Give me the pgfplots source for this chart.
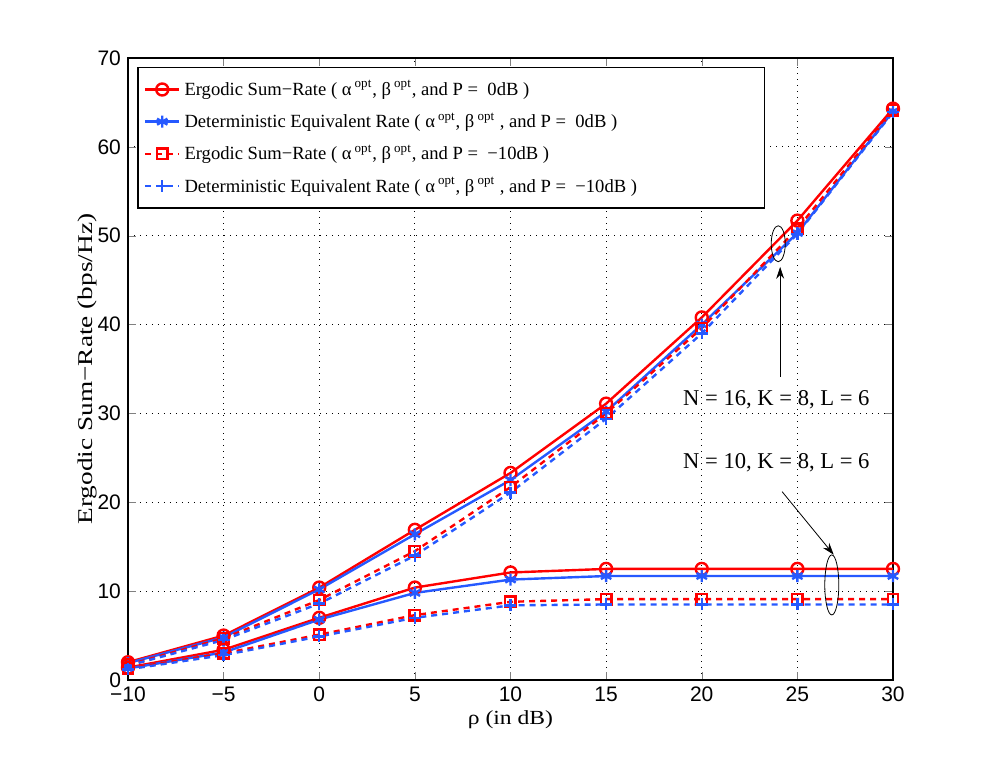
\documentclass[border=0pt]{standalone}
\usepackage{fontspec}
\setmainfont{Liberation Serif}
\newfontfamily\tickfont{Liberation Sans}
\usepackage{pgfplots}
\pgfplotsset{compat=1.18}
\usetikzlibrary{arrows.meta}
\definecolor{myred}{rgb}{1,0,0}
\definecolor{myblue}{rgb}{0.15,0.35,1}
\newcommand{\leg}[3]{\makebox[285pt][l]{#1 ( α\,\textsuperscript{opt}, β\,\textsuperscript{opt}#3, and P = \ #2 )}}
\begin{document}
\begin{tikzpicture}
\path[use as bounding box] (-64pt,-42pt) rectangle (428.5pt,340pt);
\begin{axis}[at={(0,0)}, anchor=south west, scale only axis,
  width=382.5pt, height=311pt,
  xmin=-10, xmax=30, ymin=0, ymax=70,
  xtick={-10,-5,...,30}, xticklabels={−10,−5,0,5,10,15,20,25,30},
  ytick={0,10,...,70},
  tick label style={font=\tickfont\fontsize{10.5}{12}\selectfont},
  /pgf/number format/assume math mode=true,
  grid=major,
  major grid style={black, line width=0.4pt, dash pattern=on 0.4pt off 2.6pt},
  tick align=inside, major tick length=4pt,
  axis line style={line width=0.9pt},
  xlabel={\scalebox{1.18}[1]{ρ (in dB)}},
  ylabel={\scalebox{1.3}[1]{Ergodic Sum−Rate (bps/Hz)}},
  xlabel style={font=\fontsize{10}{12}\selectfont, at={(axis description cs:0.5,-0.064)}, anchor=center},
  ylabel style={font=\fontsize{10.5}{12}\selectfont, at={(axis description cs:-0.053,0.5)}, anchor=center},
  legend style={at={(0.012,0.986)}, anchor=north west,
    font=\fontsize{9.3}{11}\selectfont, draw=black, line width=0.8pt,
    cells={anchor=west}, row sep=3.1pt, inner xsep=3pt, inner ysep=4.5pt},
  legend cell align=left,
]
% N = 16
\addplot[myred, line width=1.2pt, mark=o, mark size=3pt, mark options={solid}]
 coordinates {(-10,2.0) (-5,5.0) (0,10.4) (5,16.9) (10,23.3) (15,31.1) (20,40.8) (25,51.7) (30,64.3)};
\addlegendentry{\leg{Ergodic Sum−Rate}{0dB}{}}
\addplot[myblue, line width=1.2pt, mark=asterisk, mark size=3pt, mark options={solid}]
 coordinates {(-10,1.9) (-5,4.8) (0,10.2) (5,16.4) (10,22.5) (15,30.2) (20,40.0) (25,50.3) (30,64.0)};
\addlegendentry{\leg{Deterministic Equivalent Rate}{0dB}{\ }}
\addplot[myred, line width=1.2pt, dash pattern=on 3pt off 2.5pt, mark=square, mark size=2.6pt, mark options={solid}]
 coordinates {(-10,1.7) (-5,4.7) (0,9.0) (5,14.5) (10,21.7) (15,30.0) (20,39.6) (25,50.8) (30,64.1)};
\addlegendentry{\leg{Ergodic Sum−Rate}{−10dB}{}}
\addplot[myblue, line width=1.2pt, dash pattern=on 3pt off 2.5pt, mark=+, mark size=3pt, mark options={solid}]
 coordinates {(-10,1.6) (-5,4.5) (0,8.6) (5,14.0) (10,21.1) (15,29.4) (20,39.0) (25,50.2) (30,63.9)};
\addlegendentry{\leg{Deterministic Equivalent Rate}{−10dB}{\ }}
% N = 10
\addplot[forget plot, myred, line width=1.2pt, mark=o, mark size=3pt, mark options={solid}]
 coordinates {(-10,1.4) (-5,3.4) (0,7.0) (5,10.4) (10,12.1) (15,12.5) (20,12.5) (25,12.5) (30,12.5)};
\addplot[forget plot, myblue, line width=1.2pt, mark=asterisk, mark size=3pt, mark options={solid}]
 coordinates {(-10,1.3) (-5,3.1) (0,6.8) (5,9.8) (10,11.3) (15,11.7) (20,11.7) (25,11.7) (30,11.7)};
\addplot[forget plot, myred, line width=1.2pt, dash pattern=on 3pt off 2.5pt, mark=square, mark size=2.6pt, mark options={solid}]
 coordinates {(-10,1.3) (-5,3.0) (0,5.1) (5,7.3) (10,8.8) (15,9.1) (20,9.1) (25,9.1) (30,9.1)};
\addplot[forget plot, myblue, line width=1.2pt, dash pattern=on 3pt off 2.5pt, mark=+, mark size=3pt, mark options={solid}]
 coordinates {(-10,1.2) (-5,2.8) (0,4.9) (5,7.0) (10,8.4) (15,8.5) (20,8.5) (25,8.5) (30,8.5)};
% annotations
\draw[line width=0.4pt] (axis cs:24,49.1) ellipse [x radius=3.5pt, y radius=9pt];
\draw[line width=0.4pt, -{Stealth[length=6pt,width=4pt]}] (axis cs:24.1,34.1) -- (axis cs:24.1,46.5);
\node[font=\fontsize{11.3}{13}\selectfont] at (axis cs:23.9,31.5) {N = 16, K = 8, L = 6};
\node[font=\fontsize{11.3}{13}\selectfont] at (axis cs:23.9,24.4) {N = 10, K = 8, L = 6};
\draw[line width=0.4pt, -{Stealth[length=6pt,width=4pt]}] (axis cs:24.2,21.2) -- (axis cs:26.9,14.1);
\draw[line width=0.4pt] (axis cs:26.8,10.7) ellipse [x radius=3.5pt, y radius=15pt];
\end{axis}
\end{tikzpicture}
\end{document}
